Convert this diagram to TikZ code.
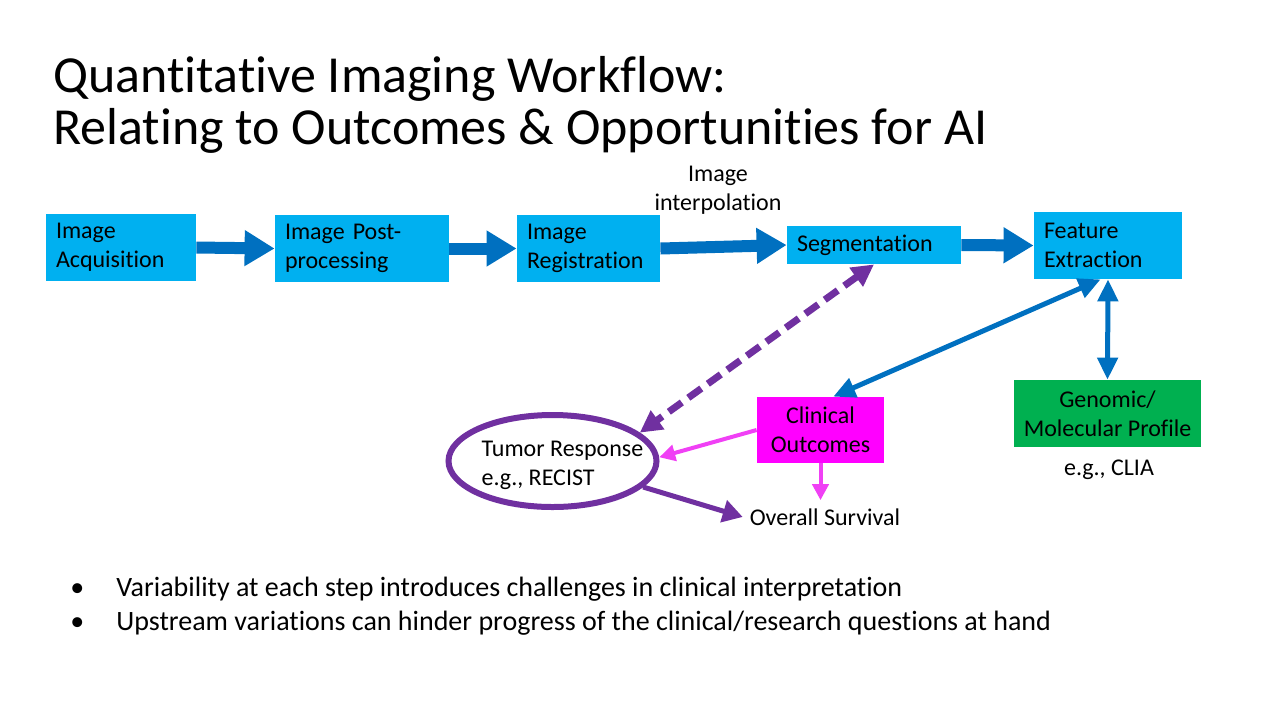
\documentclass[tikz,border=0pt]{standalone}
\usepackage{fontspec}
\setmainfont{Carlito}[Ligatures=NoCommon]
\usetikzlibrary{arrows.meta,shapes.geometric,calc}
\definecolor{boxblue}{HTML}{00B0F0}
\definecolor{arrowblue}{HTML}{0070C0}
\definecolor{purp}{HTML}{7030A0}
\definecolor{magent}{HTML}{FF00FF}
\definecolor{pinkline}{HTML}{F040F5}
\definecolor{genegreen}{HTML}{00B050}
\begin{document}
\begin{tikzpicture}[x=0.5pt,y=-0.5pt,
  every node/.style={font=\fontsize{12}{14.5}\selectfont},
  flow/.style={fill=boxblue,align=left,inner xsep=5pt,inner ysep=0pt,minimum height=33.5pt,text width=#1},
  bigarrow/.style={draw=arrowblue,line width=6pt,-{Triangle[length=15pt,width=17pt]}},
  link/.style={draw=arrowblue,line width=2.5pt,{Triangle[length=11pt,width=10pt]}-{Triangle[length=11pt,width=10pt]}},
  note/.style={anchor=west,inner sep=0pt,font=\fontsize{14}{17}\selectfont}]
  \useasboundingbox (0,0) rectangle (1280,720);
  % title
  \node[anchor=north west,align=left,inner sep=0pt,font=\fontsize{26}{26}\selectfont] (T) at (53,56)
    {Quantitative Imaging Workflow:\\Relating to Outcomes \& Opportunities for AI};
  % workflow
  \node[flow=65pt] (A) at (121,247.5) {Image\\Acquisition};
  \node[flow=77pt] (P) at (362,248.5) {Image Post-\\processing};
  \node[flow=61.5pt] (R) at (588.5,248.5) {Image\\Registration};
  \node[flow=77pt,minimum height=19pt] (S) at (874,245) {Segmentation};
  \node[flow=64pt] (F) at (1108,245.5) {Feature\\Extraction};
  \node[align=center] (I) at (718,190) {Image\\interpolation};
  \draw[bigarrow] (A.east) -- (P.west);
  \draw[bigarrow] (P.east) -- (R.west);
  \draw[bigarrow] (R.east) -- (S.west);
  \draw[bigarrow] (S.east) -- (F.west);
  % outcomes
  \node[fill=genegreen,align=center,minimum width=93.5pt,minimum height=33.5pt,inner sep=0pt] (G) at (1107.5,413.5) {Genomic/\\Molecular Profile};
  \node (L) at (1109,470) {e.g., CLIA};
  \node[fill=magent,align=center,minimum width=63.5pt,minimum height=33pt,inner sep=0pt] (C) at (820.5,430) {Clinical\\Outcomes};
  \node[ellipse,draw=purp,line width=3pt,inner sep=0pt,minimum width=104pt,minimum height=46pt,
    label={[xshift=5pt,yshift=-2pt,align=left]center:Tumor Response\\e.g., RECIST}] (M) at (552.5,461) {};
  \node[inner ysep=4pt] (O) at (825,517) {Overall Survival};
  \draw[link] (F.south) -- (G.north);
  \draw[link] ($(F.south west)!0.45!(F.south east)$) -- ($(C.north west)!0.6!(C.north east)$);
  \draw[draw=purp,line width=3.5pt,dash pattern=on 8pt off 4pt,{Triangle[length=11pt,width=11pt]}-{Triangle[length=11pt,width=11pt]}] (S.south) -- (M.18);
  \draw[draw=pinkline,line width=2pt,-{Triangle[length=8pt,width=8pt]}] (C.west) -- (M.2);
  \draw[draw=pinkline,line width=2pt,-{Triangle[length=8pt,width=8pt]}] (C.south) -- (C.south |- O.north);
  \draw[draw=purp,line width=2.5pt,-{Triangle[length=10pt,width=11pt]}] (M.-16) -- (O.west);
  % notes
  \node[note] (B1) at (70,589) {\makebox[23pt][l]{\textbullet}Variability at each step introduces challenges in clinical interpretation};
  \node[note] (B2) at (70,623) {\makebox[23pt][l]{\textbullet}Upstream variations can hinder progress of the clinical/research questions at hand};
\end{tikzpicture}
\end{document}
